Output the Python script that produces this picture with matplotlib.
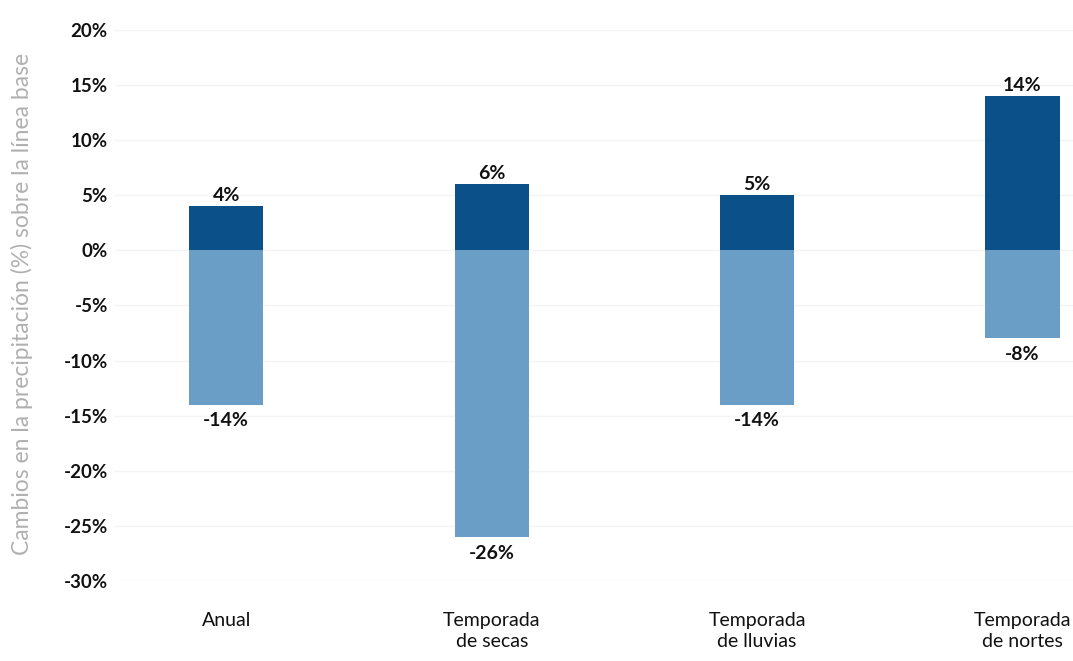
import matplotlib.pyplot as plt

# Data
categories = ['Anual', 'Temporada\nde secas', 'Temporada\nde lluvias', 'Temporada\nde nortes']
upper = [4, 6, 5, 14]
lower = [-14, -26, -14, -8]
yticks = [20, 15, 10, 5, 0, -5, -10, -15, -20, -25, -30]

dark = '#0b5089'
light = '#6a9ec6'

plt.rcParams['font.family'] = ['Lato', 'DejaVu Sans']

fig = plt.figure(figsize=(10.73, 6.61), dpi=100)
ax = fig.add_axes([0.107, 0.121, 0.893, 0.834])

x = list(range(len(categories)))
w = 0.28

# lower (negative) part and upper (positive) part
ax.bar(x, lower, width=w, color=light, zorder=2)
ax.bar(x, upper, width=w, color=dark, zorder=2)

for xi, u, l in zip(x, upper, lower):
    ax.text(xi, u + 0.2, f'{u}%', ha='center', va='bottom', fontsize=14,
            fontweight='bold', color='#111111')
    ax.text(xi, l - 0.7, f'{l}%', ha='center', va='top', fontsize=14,
            fontweight='bold', color='#111111')

ax.set_ylim(-30, 20)
ax.set_xlim(-0.42, 3.19)
ax.set_yticks(yticks)
ax.set_yticklabels([f'{t}%' for t in yticks], fontsize=13.5, fontweight='bold', color='#111111')
ax.set_xticks(x)
ax.set_xticklabels(categories, fontsize=14, color='#111111', linespacing=1.3)

ax.grid(axis='y', color='#f4f4f4', linewidth=1, zorder=0)
for s in ax.spines.values():
    s.set_visible(False)
ax.tick_params(axis='both', length=0)
ax.tick_params(axis='y', pad=5)
ax.tick_params(axis='x', pad=22)

fig.text(0.02, 0.54, 'Cambios en la precipitación (%) sobre la línea base', rotation=90,
         ha='center', va='center', fontsize=16.5, color='#b0b0b0')

fig.savefig('out.png', dpi=100)
